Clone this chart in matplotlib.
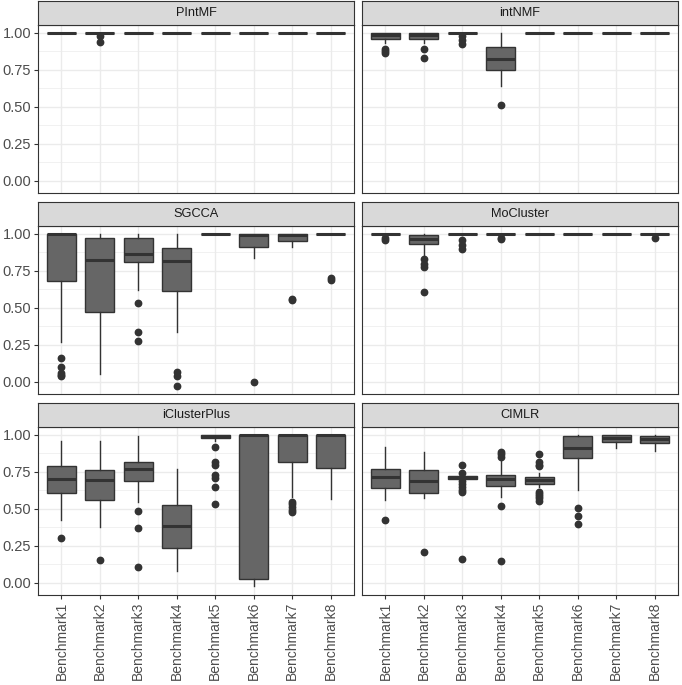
import matplotlib.pyplot as plt
import numpy as np

plt.rcParams['font.family'] = ['Liberation Sans', 'DejaVu Sans']

benchmarks = ["Benchmark%d" % i for i in range(1, 9)]
methods = ["PIntMF", "intNMF", "SGCCA", "MoCluster", "iClusterPlus", "CIMLR"]

# box stats per benchmark: (whisker low, q1, median, q3, whisker high)
pintmf_box = [(1, 1, 1, 1, 1), (0.99, 1, 1, 1, 1), (1, 1, 1, 1, 1), (1, 1, 1, 1, 1),
              (1, 1, 1, 1, 1), (1, 1, 1, 1, 1), (1, 1, 1, 1, 1), (1, 1, 1, 1, 1)]
pintmf_out = [[], [0.98, 0.94], [], [], [], [], [], []]

intnmf_box = [(0.93, 0.955, 0.985, 1.0, 1.0), (0.93, 0.955, 0.985, 1.0, 1.0),
              (0.99, 0.995, 1.0, 1.0, 1.0), (0.64, 0.75, 0.82, 0.90, 1.0),
              (1, 1, 1, 1, 1), (1, 1, 1, 1, 1), (1, 1, 1, 1, 1), (1, 1, 1, 1, 1)]
intnmf_out = [[0.89, 0.875, 0.86], [0.89, 0.83], [0.98, 0.953, 0.924], [0.51],
              [], [], [], []]

sgcca_box = [(0.27, 0.685, 1.0, 1.0, 1.0), (0.053, 0.47, 0.827, 0.975, 1.0),
             (0.62, 0.813, 0.865, 0.975, 1.0), (0.34, 0.615, 0.815, 0.905, 1.0),
             (1, 1, 1, 1, 1), (0.84, 0.915, 0.993, 1.0, 1.0),
             (0.915, 0.953, 0.99, 1.0, 1.0), (1, 1, 1, 1, 1)]
sgcca_out = [[0.16, 0.10, 0.06, 0.045, 0.04], [], [0.53, 0.34, 0.275],
             [0.065, 0.04, -0.03], [], [0.0], [0.56, 0.555], [0.70, 0.69]]

mocluster_box = [(0.99, 1, 1, 1, 1), (0.85, 0.93, 0.965, 0.993, 1.0),
                 (0.99, 1, 1, 1, 1), (0.99, 1, 1, 1, 1), (1, 1, 1, 1, 1),
                 (1, 1, 1, 1, 1), (1, 1, 1, 1, 1), (0.99, 1, 1, 1, 1)]
mocluster_out = [[0.975, 0.96], [0.83, 0.80, 0.775, 0.61], [0.957, 0.927, 0.898],
                 [0.975, 0.965], [], [], [], [0.97]]

icluster_box = [(0.427, 0.611, 0.705, 0.787, 0.96), (0.378, 0.558, 0.698, 0.76, 0.96),
                (0.549, 0.687, 0.771, 0.815, 0.993), (0.082, 0.238, 0.382, 0.527, 0.767),
                (0.96, 0.976, 0.99, 1.0, 1.0), (-0.018, 0.027, 1.0, 1.0, 1.0),
                (0.582, 0.82, 1.0, 1.0, 1.0), (0.567, 0.776, 1.0, 1.0, 1.0)]
icluster_out = [[0.305], [0.158], [0.489, 0.373, 0.111], [],
                [0.92, 0.82, 0.80, 0.73, 0.71, 0.65, 0.53], [],
                [0.545, 0.53, 0.51, 0.49, 0.478], []]

cimlr_box = [(0.56, 0.642, 0.716, 0.771, 0.92), (0.571, 0.607, 0.689, 0.762, 0.882),
             (0.69, 0.705, 0.715, 0.722, 0.735), (0.582, 0.656, 0.705, 0.727, 0.827),
             (0.65, 0.671, 0.693, 0.718, 0.74), (0.631, 0.842, 0.915, 0.995, 1.0),
             (0.915, 0.955, 0.982, 0.998, 1.0), (0.893, 0.947, 0.971, 0.993, 1.0)]
cimlr_out = [[0.422], [0.209], [0.80, 0.742, 0.687, 0.67, 0.65, 0.63, 0.615, 0.162],
             [0.882, 0.87, 0.85, 0.52, 0.145],
             [0.871, 0.815, 0.80, 0.79, 0.615, 0.60, 0.59, 0.575, 0.553],
             [0.507, 0.453, 0.398], [], []]

boxes = [pintmf_box, intnmf_box, sgcca_box, mocluster_box, icluster_box, cimlr_box]
outliers = [pintmf_out, intnmf_out, sgcca_out, mocluster_out, icluster_out, cimlr_out]

yticks = [0.0, 0.25, 0.5, 0.75, 1.0]
ytick_labels = ["0.00", "0.25", "0.50", "0.75", "1.00"]

W, H = 682, 685
fig = plt.figure(figsize=(W / 100, H / 100), dpi=100)

col_left = [38.3, 362.3]
panel_w = 315.5
row_bottom = [492.3, 291.0, 90.0]
panel_h = 167.7
strip_h = 24.5

dark = '#333333'

for k, name in enumerate(methods):
    r, c = k // 2, k % 2
    ax = fig.add_axes([col_left[c] / W, row_bottom[r] / H, panel_w / W, panel_h / H])
    stats = []
    for b, o in zip(boxes[k], outliers[k]):
        stats.append(dict(whislo=b[0], q1=b[1], med=b[2], q3=b[3], whishi=b[4], fliers=o))
    ax.bxp(stats, positions=np.arange(1, 9), widths=0.75, patch_artist=True,
           showcaps=False,
           boxprops=dict(facecolor='#666666', edgecolor=dark, linewidth=1.0),
           medianprops=dict(color=dark, linewidth=2.2, solid_capstyle='butt'),
           whiskerprops=dict(color=dark, linewidth=1.0),
           flierprops=dict(marker='o', markerfacecolor=dark, markeredgecolor=dark,
                           markersize=4.6))
    ax.set_xlim(0.4, 8.6)
    ax.set_ylim(-0.0815, 1.0515)
    ax.set_yticks(yticks)
    ax.set_yticks([0.125, 0.375, 0.625, 0.875], minor=True)
    ax.set_xticks(np.arange(1, 9))
    ax.set_axisbelow(True)
    ax.grid(True, which='major', color='#EBEBEB', linewidth=1.0)
    ax.grid(True, which='minor', axis='y', color='#EBEBEB', linewidth=0.5)
    for s in ax.spines.values():
        s.set_color(dark)
        s.set_linewidth(0.8)
    ax.tick_params(which='minor', length=0)
    ax.tick_params(which='major', length=3, color=dark, width=0.8,
                   labelcolor='#4D4D4D', pad=2)
    if c == 0:
        ax.set_yticklabels(ytick_labels, fontsize=10.5)
    else:
        ax.tick_params(axis='y', length=0, labelleft=False)
    if r == 2:
        ax.set_xticklabels(benchmarks, rotation=90, fontsize=10)
    else:
        ax.tick_params(axis='x', length=0, labelbottom=False)

    sax = fig.add_axes([col_left[c] / W, (row_bottom[r] + panel_h) / H,
                        panel_w / W, strip_h / H])
    sax.set_facecolor('#D9D9D9')
    sax.set_xticks([])
    sax.set_yticks([])
    for s in sax.spines.values():
        s.set_color(dark)
        s.set_linewidth(0.8)
    sax.text(0.5, 0.5, name, ha='center', va='center', fontsize=9.2,
             color='#1A1A1A', transform=sax.transAxes)

fig.savefig('out.png', dpi=100, facecolor='white')
